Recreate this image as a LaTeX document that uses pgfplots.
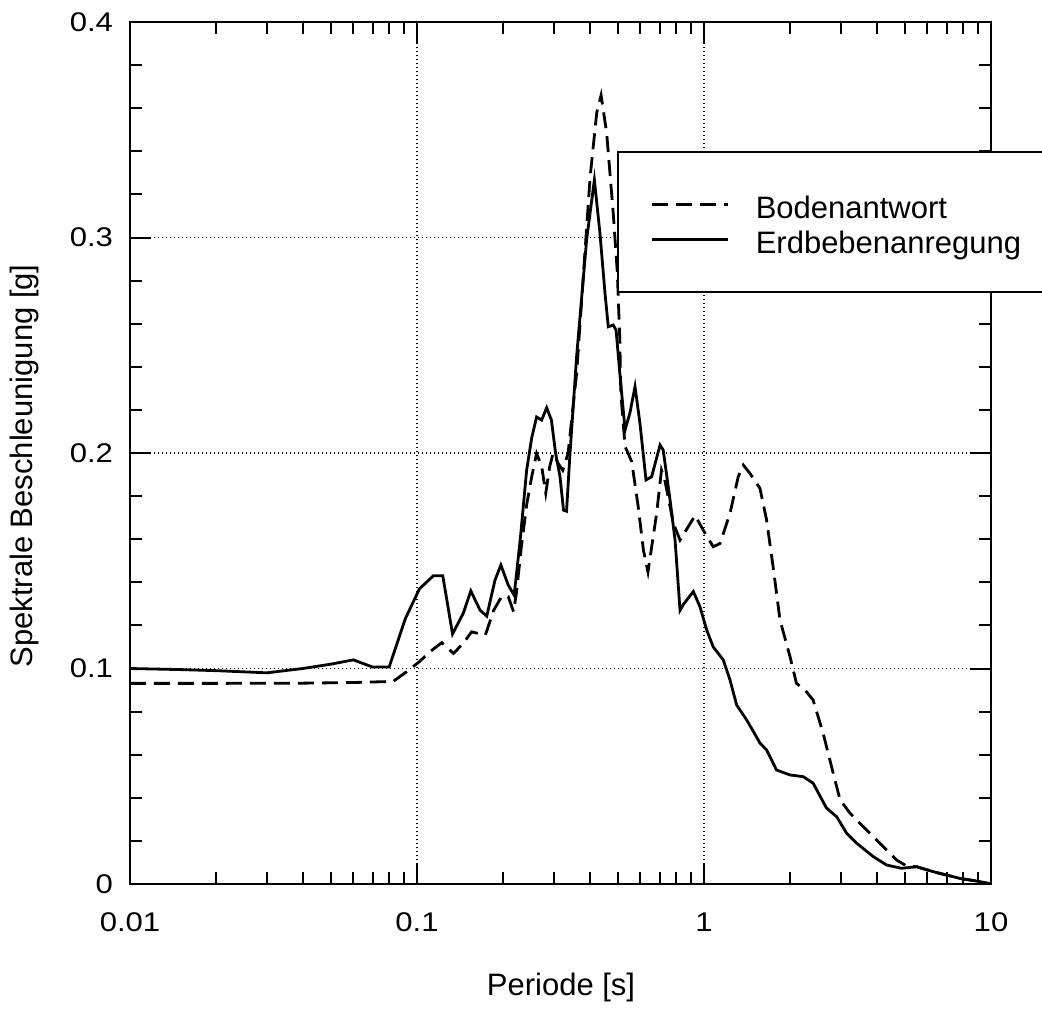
\documentclass[border=0pt]{standalone}
\usepackage{fontspec}
\setmainfont{Liberation Sans}
\usepackage{pgfplots}
\pgfplotsset{compat=1.18}
\newcommand{\tl}[1]{\scalebox{1.15}[1]{#1}}
\begin{document}
\begin{tikzpicture}
\begin{axis}[
  name=ax,
  at={(0,0)}, anchor=south west,
  scale only axis, width=430.5pt, height=431pt,
  xmode=log, xmin=0.01, xmax=10, ymin=0, ymax=0.4,
  xtick={0.01,0.1,1,10},
  xticklabels={\tl{0.01},\tl{0.1},\tl{1},\tl{10}},
  ytick={0,0.1,0.2,0.3,0.4},
  yticklabels={\tl{0},\tl{0.1},\tl{0.2},\tl{0.3},\tl{0.4}},
  minor y tick num=4,
  tick align=inside,
  major tick length=10.5pt, minor tick length=6pt,
  every tick/.style={black, line width=1pt},
  axis line style={line width=1.2pt},
  ticklabel style={font=\fontsize{13.5}{16}\selectfont},
  xticklabel style={yshift=-11pt},
  yticklabel style={xshift=-5pt},
  grid=major,
  major grid style={black, line width=0.7pt, dash pattern=on 0.7pt off 1.3pt},
  xlabel={Periode [s]},
  ylabel={Spektrale Beschleunigung [g]},
  xlabel style={at={(axis description cs:0.5006,-0.1206)}, anchor=center, font=\fontsize{15.5}{18}\selectfont},
  ylabel style={at={(axis description cs:-0.1225,0.485)}, anchor=center, font=\fontsize{15.5}{18}\selectfont},
  legend image code/.code={\draw[#1] (0pt,0pt) -- (38pt,0pt);},
  legend cell align=left,
  legend style={at={(axis description cs:0.5656,0.8503)}, anchor=north west,
    draw=black, line width=1pt, fill=white,
    inner xsep=16.5pt, inner ysep=19pt, column sep=13pt, row sep=3pt,
    nodes={inner sep=0pt, text height=14pt, text depth=0.5pt, font=\fontsize{15.5}{18}\selectfont}},
]
\addplot[black, line width=1.4pt, dash pattern=on 8pt off 4pt] coordinates {
(0.01,0.0931) (0.02,0.0931) (0.04,0.0932) (0.06,0.0935) (0.0826,0.094)
(0.092,0.0985) (0.102,0.1032) (0.111,0.1078) (0.122,0.112) (0.134,0.107)
(0.145,0.1117) (0.155,0.117) (0.173,0.1155) (0.185,0.127) (0.197,0.1333)
(0.208,0.1333) (0.217,0.1264) (0.222,0.135) (0.231,0.1565) (0.241,0.1759)
(0.251,0.189) (0.261,0.1998) (0.272,0.1937) (0.281,0.1813) (0.290,0.1937)
(0.298,0.1998) (0.311,0.195) (0.322,0.192) (0.336,0.1998) (0.360,0.237)
(0.401,0.328) (0.423,0.358) (0.438,0.366) (0.458,0.3485) (0.483,0.311)
(0.499,0.2835) (0.509,0.2524) (0.513,0.2278) (0.531,0.203) (0.560,0.196)
(0.590,0.175) (0.615,0.155) (0.638,0.1448) (0.684,0.172) (0.711,0.192)
(0.73,0.1875) (0.782,0.1675) (0.825,0.1596) (0.931,0.171) (1.007,0.1629)
(1.077,0.1565) (1.137,0.158) (1.232,0.172) (1.316,0.189) (1.371,0.1944)
(1.445,0.1906) (1.567,0.1836) (1.652,0.169) (1.742,0.147) (1.840,0.1225)
(1.994,0.1055) (2.10,0.0931) (2.25,0.090) (2.40,0.0854) (2.60,0.070)
(2.82,0.0514) (2.98,0.039) (3.23,0.0328) (3.59,0.0266) (4.10,0.0189)
(4.69,0.0111) (5.08,0.0084) (5.51,0.0080) (6.30,0.0057) (7.80,0.0026)
(9.16,0.0011) (10,0)
};
\addlegendentry{Bodenantwort}
\addplot[black, line width=1.4pt] coordinates {
(0.01,0.100) (0.015,0.0995) (0.02,0.099) (0.03,0.098) (0.04,0.100)
(0.05,0.102) (0.06,0.104) (0.07,0.1007) (0.08,0.1007) (0.091,0.123)
(0.102,0.137) (0.114,0.143) (0.123,0.143) (0.133,0.116) (0.145,0.1257)
(0.154,0.136) (0.166,0.127) (0.175,0.1243) (0.187,0.141) (0.196,0.148)
(0.208,0.1387) (0.218,0.134) (0.229,0.160) (0.241,0.192) (0.251,0.207)
(0.261,0.2167) (0.272,0.2153) (0.283,0.221) (0.294,0.2153) (0.304,0.200)
(0.315,0.189) (0.324,0.1735) (0.332,0.173) (0.341,0.199) (0.360,0.245)
(0.390,0.299) (0.415,0.3267) (0.434,0.302) (0.452,0.274) (0.464,0.2586)
(0.483,0.2594) (0.494,0.257) (0.509,0.237) (0.531,0.2107) (0.552,0.2186)
(0.575,0.2308) (0.598,0.214) (0.628,0.1875) (0.657,0.189) (0.703,0.2037)
(0.721,0.2014) (0.762,0.178) (0.793,0.1596) (0.825,0.127) (0.85,0.130)
(0.918,0.1357) (0.968,0.1287) (1.021,0.118) (1.077,0.110) (1.167,0.104)
(1.232,0.0947) (1.300,0.083) (1.409,0.0761) (1.567,0.0654) (1.652,0.0622)
(1.790,0.0529) (1.994,0.0506) (2.219,0.0498) (2.40,0.0468) (2.67,0.0353)
(2.90,0.0312) (3.14,0.0236) (3.40,0.019) (3.89,0.0127) (4.33,0.0088)
(4.88,0.0073) (5.51,0.0080) (6.30,0.0057) (7.80,0.0026) (9.16,0.0011)
(10,0.0)
};
\addlegendentry{Erdbebenanregung}
\end{axis}
\pgfresetboundingbox
\path[use as bounding box] ([shift={(-65pt,-65pt)}]ax.south west) rectangle ([shift={(456pt,442pt)}]ax.south west);
\end{tikzpicture}
\end{document}
